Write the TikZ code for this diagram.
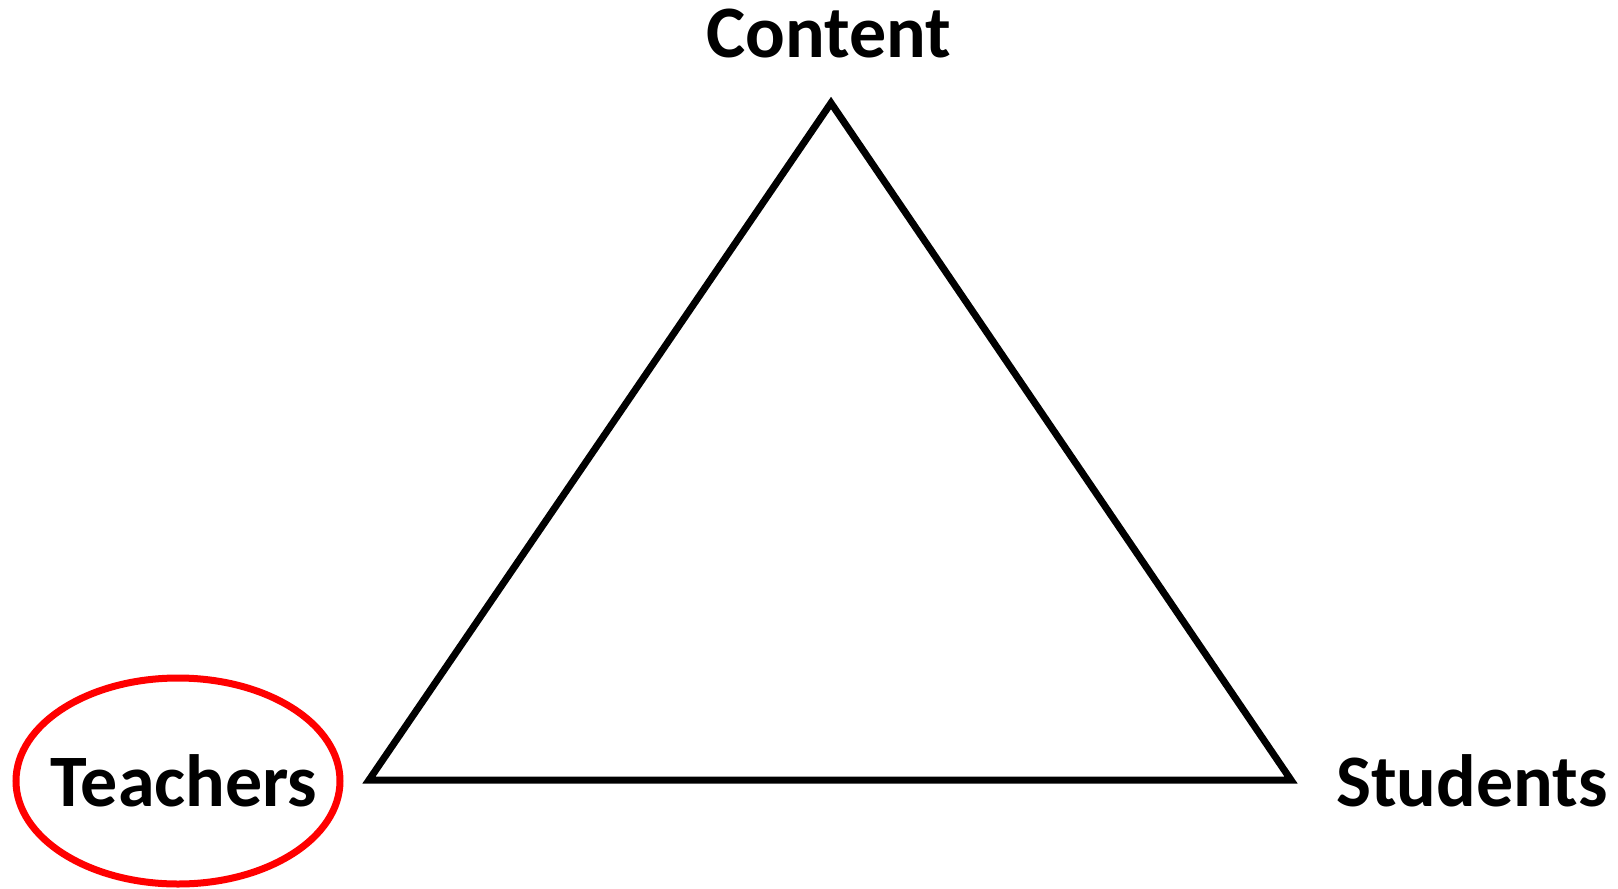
\documentclass[tikz,border=0pt]{standalone}
\usepackage{fontspec}
\setmainfont{Carlito}
\usepackage{tikz}
\usetikzlibrary{shapes.geometric}

\begin{document}
\begin{tikzpicture}[x=0.5pt,y=-0.5pt,
      corner/.style={font=\fontsize{37}{44}\selectfont\bfseries,anchor=base,inner sep=0pt},
      side/.style={draw=black,line width=3.5pt},
      ring/.style={ellipse,draw=red,line width=3.5pt,minimum width=162pt,minimum height=103pt,inner sep=0pt}]
    \useasboundingbox (0,0) rectangle (1618,889);
    \coordinate (C) at (831,103);
    \coordinate (T) at (369,780);
    \coordinate (S) at (1291,780);
    \draw[side] (C) -- (T) -- (S) -- cycle;
    \node[corner] (content) at (829,57) {Content};
    \node[corner] (teachers) at (184,806) {Teachers};
    \node[corner] (students) at (1472,806) {Students};
    \node[ring] (teachring) at (178,781) {};
  \end{tikzpicture}
\end{document}
